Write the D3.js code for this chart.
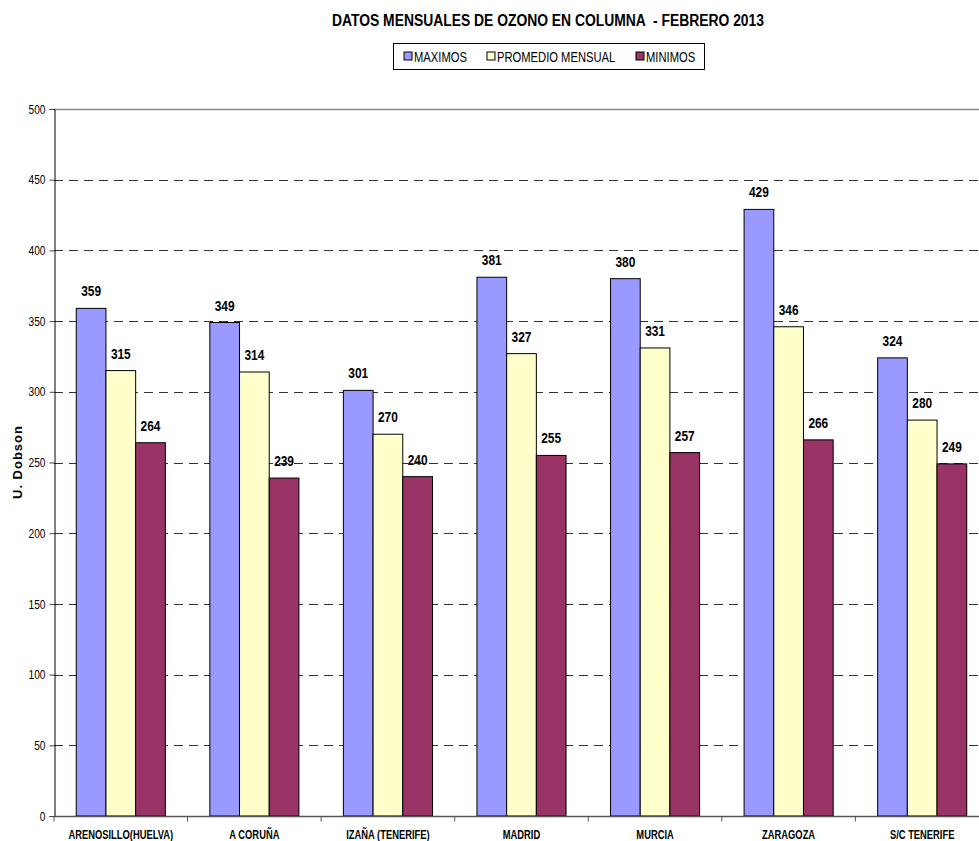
<!DOCTYPE html>
<html>
<head>
<meta charset="utf-8">
<script src="https://cdn.jsdelivr.net/npm/d3@7"></script>
<style>
  body { margin: 0; background: #fff; }
  svg { display: block; font-family: "Liberation Sans Narrow", "Arial Narrow", "Liberation Sans", Arial, sans-serif; }
</style>
</head>
<body>
<div id="chart"></div>
<script>
// data
const stations = ["ARENOSILLO(HUELVA)", "A CORUÑA", "IZAÑA (TENERIFE)", "MADRID", "MURCIA", "ZARAGOZA", "S/C TENERIFE"];
const seriesNames = ["MAXIMOS", "PROMEDIO MENSUAL", "MINIMOS"];
const maximos = [359, 349, 301, 381, 380, 429, 324];
const promedio = [315, 314, 270, 327, 331, 346, 280];
const minimos = [264, 239, 240, 255, 257, 266, 249];
const yTicks = [0, 50, 100, 150, 200, 250, 300, 350, 400, 450, 500];

const colors = ["#9999FF", "#FFFFCC", "#993366"];
const series = [maximos, promedio, minimos];

const W = 979, H = 841;
const margin = {top: 109, left: 54, bottom: 25};
// plot is wider than the window, it gets cut on the right
const plotRight = 989;

// the original font is a narrow one, squeeze the text horizontally
function condense(sel, f) {
    sel.each(function() {
        let w = this.getComputedTextLength();
        d3.select(this)
            .attr("textLength", w * f)
            .attr("lengthAdjust", "spacingAndGlyphs");
    });
}

const svg = d3.select("#chart").append("svg")
    .attr("width", W)
    .attr("height", H);

const y = d3.scaleLinear()
    .domain([0, 500])
    .range([H - margin.bottom, margin.top]);

const x0 = d3.scaleBand()
    .domain(stations)
    .range([margin.left, plotRight])
    .paddingInner(0.333)
    .paddingOuter(0.1667);

const x1 = d3.scaleBand()
    .domain(seriesNames)
    .range([0, x0.bandwidth()]);

// gridlines
svg.append("g")
    .selectAll("line")
    .data(yTicks.filter(d => d > 0))
    .join("line")
    .attr("x1", margin.left)
    .attr("x2", plotRight)
    .attr("y1", d => Math.round(y(d)) + 0.5)
    .attr("y2", d => Math.round(y(d)) + 0.5)
    .attr("stroke", d => d === 500 ? "#888" : "#333")
    .attr("stroke-width", d => d === 500 ? 1.5 : 1)
    .attr("stroke-dasharray", d => d === 500 ? null : "9,6");

// y axis
const yAxis = svg.append("g")
    .attr("transform", `translate(${margin.left + 0.5},0)`)
    .call(d3.axisLeft(y).tickValues(yTicks).tickSize(5).tickPadding(4));
yAxis.select(".domain").attr("stroke", "#000");
yAxis.selectAll(".tick line").attr("stroke", "#444");
yAxis.selectAll("text")
    .attr("font-size", 13)
    .attr("font-family", null)
    .attr("fill", "#000")
    .call(condense, 0.78);

// bars
const groups = svg.append("g")
    .selectAll("g")
    .data(stations)
    .join("g")
    .attr("transform", d => `translate(${x0(d)},0)`);

groups.selectAll("rect")
    .data((d, i) => series.map((s, k) => ({key: seriesNames[k], value: s[i], k: k})))
    .join("rect")
    .attr("x", d => x1(d.key))
    .attr("y", d => y(d.value))
    .attr("width", x1.bandwidth())
    .attr("height", d => y(0) - y(d.value))
    .attr("fill", d => colors[d.k])
    .attr("stroke", "#000")
    .attr("stroke-width", 1);

groups.selectAll("text")
    .data((d, i) => series.map((s, k) => ({key: seriesNames[k], value: s[i], k: k})))
    .join("text")
    .attr("x", d => x1(d.key) + x1.bandwidth() / 2)
    .attr("y", d => y(d.value) - 12)
    .attr("text-anchor", "middle")
    .attr("font-size", 14)
    .attr("font-weight", "bold")
    .text(d => d.value)
    .call(condense, 0.85);

// x axis
const xAxis = svg.append("g")
    .attr("transform", `translate(0,${y(0) + 0.5})`);
xAxis.append("line")
    .attr("x1", margin.left)
    .attr("x2", plotRight)
    .attr("stroke", "#555")
    .attr("stroke-width", 1.5);
xAxis.selectAll(".sep")
    .data(d3.range(stations.length + 1))
    .join("line")
    .attr("class", "sep")
    .attr("x1", i => margin.left + i * x0.step())
    .attr("x2", i => margin.left + i * x0.step())
    .attr("y1", 0)
    .attr("y2", 5)
    .attr("stroke", "#555");
xAxis.selectAll("text")
    .data(stations)
    .join("text")
    .attr("x", d => x0(d) + x0.bandwidth() / 2)
    .attr("y", 22.5)
    .attr("text-anchor", "middle")
    .attr("font-size", 12)
    .attr("font-weight", "bold")
    .text(d => d)
    .call(condense, 0.78);

// y axis title
svg.append("text")
    .attr("transform", `translate(22,${(y(0) + y(500)) / 2}) rotate(-90)`)
    .attr("text-anchor", "middle")
    .attr("font-size", 13)
    .attr("font-weight", "bold")
    .attr("textLength", 73)
    .attr("lengthAdjust", "spacing")
    .text("U. Dobson");

// title
svg.append("text")
    .attr("x", 548)
    .attr("y", 26)
    .attr("text-anchor", "middle")
    .attr("font-size", 16)
    .attr("font-weight", "bold")
    .attr("textLength", 432)
    .attr("lengthAdjust", "spacingAndGlyphs")
    .style("white-space", "pre")
    .text("DATOS MENSUALES DE OZONO EN COLUMNA  - FEBRERO 2013");

// legend
const legend = svg.append("g");
legend.append("rect")
    .attr("x", 393.5)
    .attr("y", 43.5)
    .attr("width", 311)
    .attr("height", 26)
    .attr("fill", "#fff")
    .attr("stroke", "#000")
    .attr("stroke-width", 1);
const legendX = [404, 487, 636];
const items = legend.selectAll("g")
    .data(seriesNames)
    .join("g")
    .attr("transform", (d, i) => `translate(${legendX[i]},51)`);
items.append("rect")
    .attr("width", 8)
    .attr("height", 8)
    .attr("y", 1)
    .attr("fill", (d, i) => colors[i])
    .attr("stroke", "#000");
items.append("text")
    .attr("x", 10)
    .attr("y", 10.5)
    .attr("font-size", 14)
    .text(d => d)
    .call(condense, 0.8);
</script>
</body>
</html>
